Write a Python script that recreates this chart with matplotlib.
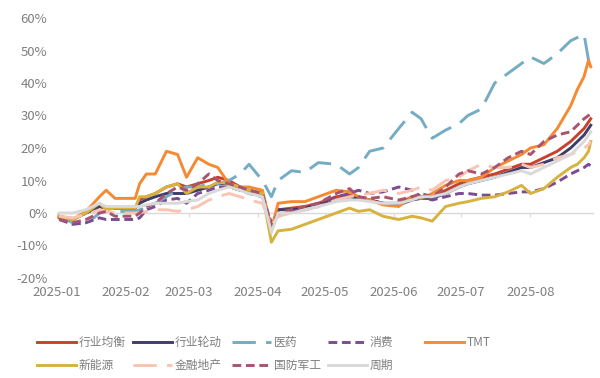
import matplotlib
matplotlib.use('Agg')
import matplotlib.pyplot as plt
import matplotlib.dates as mdates
from matplotlib.lines import Line2D
import numpy as np

plt.rcParams['font.family'] = ['Noto Sans CJK SC', 'DejaVu Sans']

# sample dates
dates = ['2025-01-02', '2025-01-08', '2025-01-14', '2025-01-20', '2025-01-23', '2025-01-27',
         '2025-02-05', '2025-02-07', '2025-02-10', '2025-02-14', '2025-02-19', '2025-02-24', '2025-02-28',
         '2025-03-05', '2025-03-10', '2025-03-14', '2025-03-19', '2025-03-24', '2025-03-28',
         '2025-04-03', '2025-04-07', '2025-04-10', '2025-04-16', '2025-04-22', '2025-04-28',
         '2025-05-06', '2025-05-12', '2025-05-16', '2025-05-21', '2025-05-27',
         '2025-06-03', '2025-06-09', '2025-06-13', '2025-06-18', '2025-06-24', '2025-06-30',
         '2025-07-04', '2025-07-10', '2025-07-16', '2025-07-22', '2025-07-28',
         '2025-08-01', '2025-08-07', '2025-08-13', '2025-08-19', '2025-08-22', '2025-08-25',
         '2025-08-27', '2025-08-28']

hangye_junheng = [-1.5, -2, 0, 2, 1.5, 1.5,
                  1.5, 4, 5, 6, 8, 9, 8,
                  9, 10, 11, 10, 8, 7,
                  6, -5, 1, 1.5, 2, 3,
                  5, 5.5, 5, 4, 3,
                  3, 5, 5, 5, 7, 9,
                  10, 11, 12, 13.5, 15,
                  15, 17, 19, 22, 24, 26, 28, 29]
hangye_lundong = [-1, -2, 0, 2, 1.5, 1.5,
                  1.5, 3, 4, 5, 6, 6, 6,
                  7, 8, 9, 9, 7.5, 7,
                  6, -5, 1, 1, 1.5, 2.5,
                  4, 5, 4.5, 4, 3,
                  2.5, 4, 4.5, 4.5, 6, 8,
                  9, 10, 11, 12.5, 14,
                  14, 15.5, 17, 20, 22, 24, 26, 27]
yiyao = [-1, -3, -3.5, 0, 0.5, 0.5,
         0.5, 1, 1.5, 3, 5, 7, 8,
         8, 9, 9, 10, 12, 15,
         10, 5, 10, 13, 12.5, 15.5,
         15, 12, 14, 19, 20,
         26, 31, 29, 23, 25.5, 27.5,
         30, 32, 40, 43, 46,
         48, 46, 49, 53, 54, 55, 47, 50]
xiaofei = [-2, -3.5, -3, -1.5, -2, -2,
           -2, -1.5, 1, 2, 4, 4.5, 3,
           6, 7, 8, 8, 7, 6,
           5, -3, -1, 0.5, 1, 2,
           5, 6, 7, 6, 6.5,
           8, 7, 5, 4, 5, 6,
           6, 5.5, 5.5, 6, 6.5,
           6.5, 7.5, 9.5, 12, 13, 14, 15, 14.5]
tmt = [-1, -2, 0.5, 5, 7, 4.5,
       4.5, 9, 12, 12, 19, 18, 11,
       17, 15, 14, 9, 8, 8,
       7, -5, 3, 3.5, 3.5, 5,
       7, 6.5, 5, 4, 2.5,
       2, 5, 4.5, 6, 8.5, 10,
       10, 11, 14, 16, 18,
       20, 21, 26, 33, 38, 42, 47, 45]
xinnengyuan = [-1, -2, 0, 3, 1, 1.5,
               1.5, 5, 5, 6, 8, 9, 6,
               8, 8, 9.5, 9, 8, 7,
               6, -9, -5.5, -5, -3.5, -2,
               0, 1.5, 0.5, 1, -1,
               -2, -1, -1.5, -2.5, 2, 3,
               3.5, 4.5, 5, 6.5, 8.5,
               6, 7.5, 11, 14, 15, 17, 19, 22]
jinrong_dichan = [-1, -1.5, -0.5, 1, 0.5, 0,
                  0, 0, 0.5, 1, 1, 0.5, 1,
                  2, 4, 5, 6, 5, 4,
                  3, -4, -1, 0, 1, 2,
                  4, 5, 5.5, 6, 7,
                  6, 7, 8, 7, 10, 11,
                  13, 15, 14, 14, 15,
                  14, 15, 17, 18, 19, 20, 21, 22]
guofang = [-2, -3, -2, 0, 0.5, -1,
           -1, 0, 2, 3, 6, 8, 7,
           9, 12, 10, 9, 8, 7,
           6, -4, 0, 1, 2, 3,
           6, 7.5, 5, 4.5, 5,
           4, 5, 6, 5, 8, 12,
           13, 12, 14, 17, 19,
           18, 22, 24, 25, 27, 29, 30, 30.5]
zhouqi = [0, 0, 1, 3, 2, 2,
          2, 2, 2.5, 3, 3, 3, 3.5,
          4, 6, 7, 8, 7, 6,
          5, -6, 0, 0, 1, 2,
          3.5, 4, 4, 3.5, 3,
          3, 4, 5, 5, 6, 8,
          9, 10, 11, 12, 13,
          12, 14, 16, 18, 20, 22, 24, 25]

names = ['行业均衡', '行业轮动', '医药', '消费', 'TMT',
         '新能源', '金融地产', '国防军工', '周期']
series = [hangye_junheng, hangye_lundong, yiyao, xiaofei, tmt,
          xinnengyuan, jinrong_dichan, guofang, zhouqi]
colors = ['#C8412B', '#3F3D6B', '#74ACC4', '#7D4B8F', '#F58A33',
          '#D7B23F', '#F9C5B2', '#A9546E', '#D9D9D9']
long_dash = (0, (8, 3.5))
short_dash = (0, (3, 1.6))
styles = ['-', '-', long_dash, short_dash, '-',
          '-', long_dash, short_dash, '-']

month_labels = ['2025-01', '2025-02', '2025-03', '2025-04',
                '2025-05', '2025-06', '2025-07', '2025-08']
y_ticks = [-20, -10, 0, 10, 20, 30, 40, 50, 60]

x = mdates.date2num(np.array(dates, dtype='datetime64[D]'))
month_x = mdates.date2num(np.array([m + '-01' for m in month_labels], dtype='datetime64[D]'))

fig = plt.figure(figsize=(6, 3.78), dpi=100)
ax = fig.add_axes([57 / 600, 1 - 278 / 378, 536 / 600, 260 / 378])

lw = 2.1
for vals, c, ls in zip(series, colors, styles):
    ax.plot(x, vals, color=c, linestyle=ls, linewidth=lw,
            solid_joinstyle='round', dash_capstyle='butt')

ax.set_xlim(mdates.date2num(np.datetime64('2025-01-01')),
            mdates.date2num(np.datetime64('2025-08-29')))
ax.set_ylim(-20, 60)

for s in ['top', 'right', 'left']:
    ax.spines[s].set_visible(False)
ax.spines['bottom'].set_position(('data', 0))
ax.spines['bottom'].set_color('#D9D9D9')
ax.spines['bottom'].set_linewidth(1.0)
ax.spines['bottom'].set_zorder(0)
ax.set_xticks(month_x)
ax.tick_params(axis='x', length=3, color='#D9D9D9', labelbottom=False)

ax.set_yticks(y_ticks)
ax.set_yticklabels([f'{v}%' for v in y_ticks])
ax.tick_params(axis='y', length=0, pad=7, labelcolor='#7F7F7F', labelsize=9.5)

sec = ax.secondary_xaxis('bottom')
sec.spines['bottom'].set_visible(False)
sec.set_xticks(month_x, labels=month_labels)
sec.tick_params(length=0, pad=6, labelcolor='#7F7F7F', labelsize=9.5)

# legend: five fixed-width columns, two rows
col_x = [37, 133, 232, 328, 425]
handles = [Line2D([], [], color=c, linestyle=ls, linewidth=lw)
           for c, ls in zip(colors, styles)]
for ci, cx in enumerate(col_x):
    idx = [i for i in (ci, ci + 5) if i < len(names)]
    fig.legend([handles[i] for i in idx], [names[i] for i in idx],
               loc='upper left', bbox_to_anchor=(cx / 600, 1 - 336 / 378),
               frameon=False, borderpad=0, borderaxespad=0,
               handlelength=3.3, handletextpad=0.25, labelspacing=0.85,
               fontsize=8.5, labelcolor='#7F7F7F')

fig.savefig('out.png', dpi=100)
